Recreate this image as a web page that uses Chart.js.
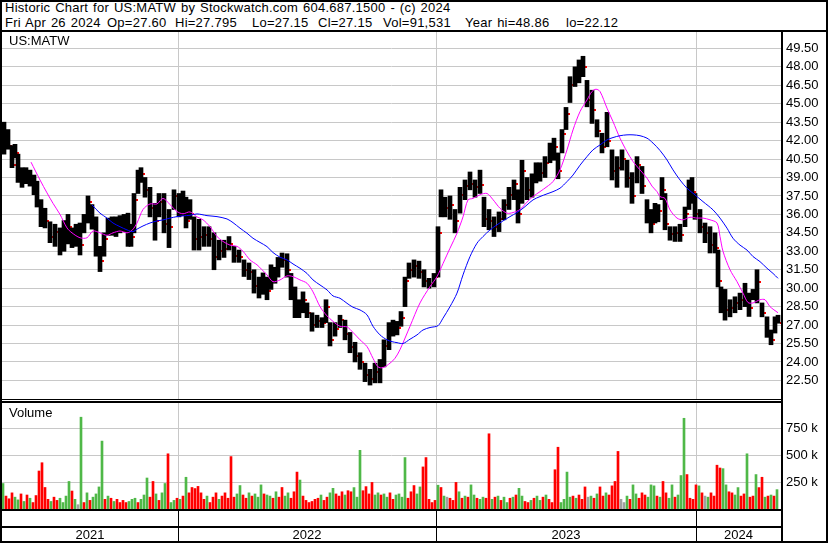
<!DOCTYPE html>
<html>
<head>
<meta charset="utf-8">
<script src="https://cdn.jsdelivr.net/npm/chart.js@4.4.1/dist/chart.umd.min.js"></script>
<style>
  body { margin: 0; background: #fff; }
  #wrap { position: relative; width: 830px; height: 543px; background: #fff; overflow: hidden;
          font-family: "Liberation Sans", Arial, sans-serif; font-size: 13px; color: #000; }
  #wrap canvas { position: absolute; }
  .ln { position: absolute; background: #000; }
  .txt { position: absolute; white-space: pre; line-height: 14px; }
  .hd { letter-spacing: 0.25px; word-spacing: 1px; }
</style>
</head>
<body>
<div id="wrap">
  <canvas id="price" width="825" height="367" style="left:2px; top:32px; width:825px; height:367px"></canvas>
  <canvas id="volume" width="825" height="138" style="left:2px; top:403px; width:825px; height:138px"></canvas>

  <div class="txt hd" style="left:5px; top:1px">Historic Chart for US:MATW by Stockwatch.com 604.687.1500 - (c) 2024</div>
  <div class="txt hd" style="left:5px; top:16px">Fri Apr 26 2024</div>
  <div class="txt hd" style="left:107px; top:16px">Op=27.60</div>
  <div class="txt hd" style="left:175px; top:16px">Hi=27.795</div>
  <div class="txt hd" style="left:252px; top:16px">Lo=27.15</div>
  <div class="txt hd" style="left:318px; top:16px">Cl=27.15</div>
  <div class="txt hd" style="left:383px; top:16px">Vol=91,531</div>
  <div class="txt hd" style="left:465px; top:16px">Year hi=48.86</div>
  <div class="txt hd" style="left:566px; top:16px">lo=22.12</div>
  <div class="txt" style="left:9px; top:34px">US:MATW</div>
  <div class="txt" style="left:9px; top:406px">Volume</div>

  <!-- cadre -->
  <div class="ln" style="left:0; top:0; width:828px; height:2px"></div>
  <div class="ln" style="left:0; top:541px; width:828px; height:2px"></div>
  <div class="ln" style="left:0; top:0; width:2px; height:543px"></div>
  <div class="ln" style="left:826px; top:0; width:2px; height:543px"></div>
  <div class="ln" style="left:0; top:30px; width:828px; height:2px"></div>
  <div class="ln" style="left:781px; top:32px; width:2px; height:511px"></div>
  <div class="ln" style="left:0; top:399px; width:781px; height:1px"></div>
  <div class="ln" style="left:0; top:401px; width:781px; height:2px"></div>
  <div class="ln" style="left:0; top:509px; width:781px; height:2px"></div>
  <div class="ln" style="left:0; top:526px; width:781px; height:2px"></div>
</div>

<script>
// ---- données (jour = position de la séance) ----
const priceTicks = [22.5, 24, 25.5, 27, 28.5, 30, 31.5, 33, 34.5, 36, 37.5, 39, 40.5, 42, 43.5, 45, 46.5, 48, 49.5];
const volTicks = [250, 500, 750];
const yearStartDay = [178, 436, 696];
const yearLabels = ["2021", "2022", "2023", "2024"];

const priceDay = [
  4, 8, 12, 15, 18, 22, 26, 30, 34, 37,
  41, 45, 50, 55, 60, 64, 68, 72, 76, 80,
  84, 88, 92, 96, 100, 104, 108, 112, 116, 120,
  124, 128, 131, 134, 138, 141, 145, 150, 155, 159,
  164, 169, 174, 179, 183, 186, 190, 194, 199, 204,
  209, 214, 219, 224, 229, 234, 239, 244, 249, 254,
  259, 263, 267, 271, 275, 278, 282, 287, 291, 295,
  299, 303, 307, 312, 317, 322, 326, 330, 335, 340,
  345, 350, 355, 360, 365, 370, 375, 380, 384, 389,
  393, 397, 401, 405, 409, 414, 419, 424, 429, 434,
  438, 441, 445, 450, 455, 460, 465, 470, 475, 480,
  484, 489, 494, 499, 504, 509, 514, 518, 522, 527,
  532, 536, 540, 545, 550, 554, 558, 562, 566, 570,
  575, 579, 583, 587, 592, 597, 602, 607, 612, 617,
  622, 627, 632, 637, 642, 647, 651, 655, 658, 662,
  665, 670, 675, 680, 685, 689, 692, 695, 700, 705,
  710, 715, 718, 721, 725, 730, 735, 740, 745, 749,
  753, 757, 762, 767, 771, 775, 778
];
const priceHi = [
  43.5, 42.9, 41.6, 41.7, 40.9, 39.8, 39.8, 39.6, 39.2, 38.7,
  37.2, 36.5, 35.4, 35.2, 34.9, 35.5, 36.0, 34.9, 35.2, 35.3,
  36.0, 37.5, 36.8, 35.8, 33.4, 34.5, 35.7, 35.8, 35.8, 35.9,
  36.0, 36.1, 35.2, 37.7, 39.6, 39.8, 39.0, 38.2, 36.9, 37.7,
  37.7, 36.4, 38.0, 37.7, 37.9, 37.4, 37.2, 35.8, 35.6, 35.0,
  35.0, 34.5, 33.9, 33.9, 34.2, 33.4, 33.1, 32.3, 32.05, 31.5,
  30.9, 31.24, 30.9, 31.9, 31.7, 32.5, 32.86, 32.8, 31.2, 30.1,
  29.06, 29.7, 28.8, 28.0, 27.8, 27.6, 29.06, 27.2, 27.2, 27.8,
  27.4, 26.4, 25.6, 24.75, 23.9, 23.4, 23.9, 24.2, 25.8, 27.2,
  27.4, 27.3, 28.1, 30.9, 32.05, 32.3, 32.2, 31.5, 30.8, 31.2,
  35.0, 38.0, 37.4, 37.5, 36.4, 38.2, 38.8, 39.45, 38.8, 39.6,
  37.4, 36.4, 35.8, 36.2, 37.2, 38.2, 38.8, 38.0, 40.4, 39.0,
  39.3, 40.2, 40.2, 40.7, 41.8, 42.2, 41.0, 42.9, 44.7, 47.2,
  48.0, 48.56, 48.86, 46.9, 46.1, 43.7, 42.6, 44.3, 41.25, 40.7,
  41.25, 40.4, 39.4, 40.7, 39.9, 37.2, 36.4, 36.9, 36.8, 39.0,
  37.7, 35.0, 35.0, 35.2, 36.6, 38.8, 39.0, 37.7, 36.4, 35.3,
  35.0, 34.5, 33.1, 30.1, 29.9, 29.06, 29.3, 29.6, 30.4, 29.6,
  29.9, 31.5, 28.8, 27.67, 26.6, 27.67, 27.8
];
const priceLo = [
  40.9, 41.3, 39.8, 40.6, 38.6, 38.2, 38.5, 38.3, 37.6, 36.6,
  35.0, 34.9, 33.7, 33.4, 32.7, 33.0, 33.6, 33.3, 33.4, 32.7,
  34.5, 35.3, 34.8, 32.6, 31.35, 32.6, 34.3, 34.3, 34.2, 34.5,
  34.6, 33.4, 33.4, 34.5, 37.7, 38.6, 37.4, 35.8, 33.9, 35.8,
  34.5, 33.3, 36.4, 35.8, 35.9, 34.9, 35.6, 33.1, 33.1, 33.4,
  33.4, 31.5, 32.3, 32.5, 33.1, 32.1, 32.1, 30.95, 30.7, 29.6,
  29.2, 29.5, 29.06, 29.9, 30.4, 30.9, 31.7, 30.9, 29.06, 27.6,
  27.6, 28.0, 27.6, 26.5, 26.8, 26.8, 27.2, 25.3, 26.1, 26.8,
  25.8, 24.75, 24.0, 23.4, 22.4, 22.12, 22.3, 22.3, 23.6, 25.0,
  26.1, 26.2, 26.9, 28.5, 30.8, 30.9, 30.8, 30.1, 30.0, 30.1,
  30.9, 35.8, 35.8, 35.6, 34.5, 36.1, 37.2, 38.0, 37.4, 37.7,
  35.0, 34.75, 34.2, 34.6, 35.56, 36.4, 37.2, 35.3, 36.9, 37.2,
  37.4, 38.56, 38.7, 39.0, 40.2, 40.4, 38.9, 41.0, 42.9, 45.1,
  46.4, 46.7, 47.2, 44.75, 43.4, 42.3, 41.0, 41.5, 38.8, 38.2,
  39.6, 38.2, 36.9, 38.56, 37.7, 35.3, 34.5, 35.3, 35.4, 37.2,
  34.75, 33.9, 33.8, 33.8, 35.0, 36.4, 36.9, 35.6, 34.5, 33.7,
  32.86, 32.86, 30.1, 28.0, 27.4, 27.67, 28.0, 28.25, 28.5, 27.7,
  29.06, 28.8, 27.67, 26.0, 25.4, 26.35, 27.15
];
const priceClose = [
  42.2, 41.6, 40.0, 41.0, 39.0, 38.9, 39.2, 38.8, 38.0, 37.0,
  35.6, 35.5, 34.2, 34.6, 33.8, 34.8, 35.0, 34.0, 34.4, 33.5,
  35.6, 37.0, 35.5, 33.2, 32.2, 34.0, 35.0, 35.2, 35.2, 35.0,
  35.3, 34.0, 34.2, 37.2, 39.2, 39.3, 38.0, 36.5, 35.5, 37.0,
  35.2, 35.0, 37.5, 36.8, 36.5, 35.5, 36.0, 34.0, 34.2, 34.3,
  34.0, 32.5, 33.0, 33.2, 33.6, 32.6, 32.5, 31.5, 31.3, 30.2,
  29.8, 30.8, 29.8, 31.2, 31.0, 32.0, 32.3, 31.5, 29.5, 28.2,
  28.5, 29.0, 28.0, 27.0, 27.3, 27.2, 28.5, 25.8, 26.7, 27.4,
  26.3, 25.2, 24.5, 24.0, 22.9, 22.6, 23.2, 23.9, 25.3, 26.8,
  26.6, 26.8, 27.6, 30.6, 31.5, 31.8, 31.3, 30.6, 30.3, 30.9,
  34.5, 37.0, 36.5, 36.8, 35.5, 37.6, 38.3, 38.5, 38.2, 38.4,
  35.6, 35.5, 35.0, 35.6, 36.8, 37.6, 38.5, 36.0, 39.5, 38.0,
  38.6, 39.5, 39.4, 40.2, 41.3, 41.5, 39.5, 42.5, 44.2, 46.5,
  47.2, 47.8, 48.0, 45.3, 44.5, 42.8, 41.5, 42.0, 39.5, 39.8,
  40.5, 39.0, 37.5, 40.0, 38.3, 35.8, 35.2, 36.0, 36.3, 38.0,
  35.2, 34.4, 34.5, 34.3, 36.0, 38.0, 37.8, 36.0, 35.0, 34.5,
  33.5, 33.3, 30.6, 28.7, 28.2, 28.4, 28.8, 29.0, 29.5, 28.4,
  29.4, 30.5, 28.0, 26.5, 25.8, 27.3, 27.15
];

// moyenne mobile courte (magenta)
const maShortDay = [
  31, 40, 47, 53, 60, 67, 72, 80, 87, 93, 100, 107, 113, 120, 127, 132, 137, 143, 150, 157,
  163, 170, 177, 183, 190, 197, 203, 210, 217, 223, 230, 237, 243, 250, 257, 262, 267, 273, 280, 287,
  293, 300, 307, 313, 320, 327, 333, 340, 347, 353, 360, 367, 373, 378, 383, 390, 395, 400, 410, 420,
  430, 437, 443, 450, 457, 463, 468, 473, 480, 487, 493, 500, 507, 513, 520, 527, 533, 540, 547, 553,
  560, 567, 573, 580, 587, 592, 596, 600, 607, 613, 620, 627, 633, 640, 647, 652, 657, 660, 665, 670,
  677, 683, 690, 697, 703, 710, 717, 720, 723, 730, 737, 743, 748, 753, 760, 765, 770, 778
];
const maShort = [
  40.25, 38.8, 37.75, 36.9, 36.0, 34.9, 34.5, 34.1, 34.1, 34.65, 34.5, 34.3, 34.5, 34.65, 34.5, 34.7, 35.3, 36.4, 36.85, 36.85,
  37.3, 36.8, 36.23, 36.05, 36.2, 35.8, 35.56, 35.0, 34.2, 33.8, 33.5, 33.4, 33.0, 32.3, 31.9, 31.5, 31.08, 30.53, 30.67, 31.0,
  30.94, 30.67, 30.4, 29.7, 28.5, 27.75, 27.3, 26.9, 26.85, 26.4, 25.8, 25.25, 24.3, 23.6, 23.54, 23.9, 24.3, 25.0, 26.9, 28.8,
  30.13, 30.94, 32.0, 33.25, 34.47, 35.8, 37.18, 37.3, 37.6, 37.7, 37.2, 36.5, 36.1, 36.15, 36.4, 37.0, 37.45, 37.85, 38.26, 38.67,
  39.62, 41.25, 42.87, 44.36, 45.31, 46.0, 46.18, 46.0, 44.64, 43.55, 42.2, 41.1, 40.3, 39.62, 38.95, 38.3, 37.85, 37.45, 37.3, 36.37,
  35.7, 35.56, 35.77, 35.7, 35.7, 35.56, 35.3, 34.2, 33.0, 31.5, 30.53, 29.6, 28.83, 28.8, 29.06, 29.06, 28.5, 28.0
];

// moyenne mobile longue (bleu)
const maLongDay = [
  92, 100, 107, 113, 120, 127, 133, 137, 143, 150, 157, 163, 170, 177, 183, 190, 197, 207, 217, 227,
  233, 240, 247, 253, 260, 267, 273, 280, 287, 293, 300, 307, 313, 320, 327, 333, 340, 347, 353, 360,
  367, 373, 380, 387, 392, 397, 403, 410, 417, 423, 430, 438, 443, 450, 457, 463, 470, 477, 483, 490,
  497, 503, 510, 517, 523, 527, 533, 540, 547, 553, 560, 567, 573, 580, 587, 593, 600, 607, 613, 620,
  627, 633, 640, 647, 653, 660, 667, 673, 680, 687, 693, 703, 713, 720, 727, 733, 740, 747, 753, 760,
  767, 773, 778
];
const maLong = [
  36.77, 36.1, 35.7, 35.3, 35.0, 34.74, 34.6, 34.8, 35.06, 35.3, 35.47, 35.55, 35.7, 35.82, 35.88, 35.93, 36.04, 35.9, 35.82, 35.63,
  35.33, 34.88, 34.47, 34.06, 33.72, 33.38, 32.9, 32.52, 32.3, 31.97, 31.62, 31.2, 30.67, 30.26, 29.86, 29.37, 29.18, 28.77, 28.45, 28.23,
  27.83, 26.9, 26.2, 25.8, 25.65, 25.57, 25.5, 25.85, 26.2, 26.6, 26.8, 26.95, 27.56, 28.5, 29.6, 31.08, 32.57, 33.66, 34.2, 34.74,
  35.15, 35.47, 35.82, 36.15, 36.5, 36.77, 37.18, 37.45, 37.67, 37.85, 38.13, 38.67, 39.2, 40.0, 40.7, 41.25, 41.65, 42.06, 42.25, 42.4,
  42.47, 42.47, 42.4, 42.2, 41.8, 41.2, 40.43, 39.62, 38.8, 38.13, 37.72, 37.04, 36.37, 35.7, 34.88, 34.06, 33.5, 33.1, 32.57, 32.16,
  31.62, 31.2, 30.8
];

// volume en milliers, une barre toutes les 3 séances
const volume = [
  237, 120, 95, 150, 110, 85, 140, 70, 130, 100, 60, 125, 353, 430, 200, 90, 70, 110, 80, 100,
  60, 120, 256, 167, 90, 40, 853, 60, 150, 80, 110, 140, 205, 631, 90, 120, 100, 70, 90, 60,
  80, 60, 70, 90, 100, 60, 90, 130, 288, 110, 256, 140, 80, 150, 237, 513, 60, 80, 100, 90,
  120, 295, 150, 200, 190, 210, 150, 90, 120, 60, 110, 150, 90, 120, 150, 100, 487, 110, 140, 218,
  130, 100, 150, 120, 140, 110, 224, 140, 130, 120, 100, 160, 110, 200, 120, 150, 100, 160, 343, 269,
  120, 80, 60, 70, 90, 100, 130, 80, 110, 150, 192, 140, 120, 160, 130, 170, 160, 199, 110, 545,
  170, 208, 140, 247, 130, 150, 130, 140, 110, 150, 90, 130, 140, 110, 478, 100, 160, 218, 140, 205,
  391, 478, 90, 60, 80, 221, 200, 120, 110, 100, 80, 247, 160, 100, 120, 110, 224, 130, 100, 90,
  110, 100, 699, 90, 110, 120, 80, 110, 60, 100, 110, 130, 192, 120, 70, 60, 80, 100, 120, 80,
  110, 130, 90, 60, 365, 574, 60, 90, 343, 110, 120, 100, 130, 90, 205, 110, 120, 100, 140, 205,
  120, 150, 130, 215, 256, 535, 90, 60, 120, 90, 224, 140, 100, 150, 130, 110, 224, 215, 120, 110,
  256, 150, 100, 224, 110, 130, 311, 843, 320, 100, 90, 224, 215, 150, 120, 110, 150, 120, 407, 381,
  375, 224, 160, 150, 130, 199, 120, 140, 513, 110, 120, 320, 199, 295, 110, 120, 130, 120, 180
];
// g = hausse, r = baisse, n = inchangé
const volumeDir =
  "grrrggrgrgrrrrrrgrrg" + "gggrgngrgrggggrgrgrr" + "rrgggrgggrrgrggrggrg" +
  "rgrrrrrrgrrrgrrrrrgg" + "rrgrgggrggrgrrggrrrg" + "rrrrrrgrrggrrrgrrggg" +
  "rrrrggrggrrggggrrrgg" + "rrrrrgrgnrrrgrgrggrg" + "grrgrgrggrgrggrrgrgg" +
  "rgrrrrggggrgrrrngrgr" + "rgrrrrnngrggrrrgggrg" + "rrggrgggrrrrgrngrrrr" +
  "ggrrggrrgrrgrrgrgrg";

// ---- style ----
const GRID = "rgb(200,200,200)";
const VOL_COLORS = { g: "#4fb848", r: "#ff0000", n: "#a0a0a0" };
const dayMin = 2, dayMax = 781;
const volDay = volume.map((v, i) => 3 + 3 * i);

Chart.defaults.font.family = '"Liberation Sans", Arial, sans-serif';
Chart.defaults.font.size = 13;
Chart.defaults.color = "#000";

// lignes verticales grises aux changements d'année
const yearLines = {
  id: "yearLines",
  beforeDatasetsDraw(chart) {
    const { ctx, chartArea: a, scales: { x } } = chart;
    ctx.save();
    ctx.strokeStyle = GRID;
    ctx.lineWidth = 1;
    yearStartDay.forEach((d) => {
      const px = Math.round(x.getPixelForValue(d)) + 0.5;
      ctx.beginPath();
      ctx.moveTo(px, a.top);
      ctx.lineTo(px, a.bottom);
      ctx.stroke();
    });
    ctx.restore();
  },
};

// trait rouge de clôture à droite de la barre, dessiné avant les barres
// (il ne reste visible que là où la barre suivante ne le recouvre pas)
const closeTicks = {
  id: "closeTicks",
  beforeDatasetDraw(chart, args) {
    if (args.index !== 2) return;
    const { ctx, scales: { y } } = chart;
    ctx.save();
    ctx.fillStyle = "#ff0000";
    args.meta.data.forEach((bar, i) => {
      const py = Math.round(y.getPixelForValue(priceClose[i]));
      ctx.fillRect(Math.round(bar.x + bar.width / 2), py - 1, 2, 2);
    });
    ctx.restore();
  },
};

// axe des dates sous le volume
const dateAxis = {
  id: "dateAxis",
  afterDraw(chart) {
    const { ctx, chartArea: a, scales: { x } } = chart;
    const edges = [a.left, ...yearStartDay.map((d) => Math.round(x.getPixelForValue(d))), a.right];
    ctx.save();
    ctx.fillStyle = "#000";
    yearStartDay.forEach((d) => {
      ctx.fillRect(Math.round(x.getPixelForValue(d)), a.bottom, 1, chart.height - a.bottom);
    });
    ctx.font = '13px "Liberation Sans", Arial, sans-serif';
    ctx.textAlign = "center";
    ctx.textBaseline = "middle";
    yearLabels.forEach((lab, i) => {
      ctx.fillText(lab, (edges[i] + edges[i + 1]) / 2, a.bottom + 26);
    });
    ctx.restore();
  },
};

// axe de droite : largeur fixe, sans marge pour les étiquettes extrêmes
function fitRightAxis(s) {
  s.width = 46;
  s.paddingTop = 0;
  s.paddingBottom = 0;
}

const commonOptions = {
  responsive: false,
  animation: false,
  events: [],
  plugins: { legend: { display: false }, tooltip: { enabled: false } },
};

// graphique des cours
new Chart(document.getElementById("price"), {
  type: "bar",
  data: {
    datasets: [
      {
        type: "line",
        data: maShortDay.map((d, i) => ({ x: d, y: maShort[i] })),
        borderColor: "#ff00ff",
        borderWidth: 1,
        pointRadius: 0,
        tension: 0.3,
        order: 1,
      },
      {
        type: "line",
        data: maLongDay.map((d, i) => ({ x: d, y: maLong[i] })),
        borderColor: "#0000ff",
        borderWidth: 1,
        pointRadius: 0,
        tension: 0.3,
        order: 0,
      },
      {
        data: priceDay.map((d, i) => ({ x: d, y: [priceLo[i], priceHi[i]] })),
        backgroundColor: "#000",
        borderWidth: 0,
        barThickness: 4,
        order: 2,
      },
    ],
  },
  options: {
    ...commonOptions,
    scales: {
      x: { type: "linear", offset: false, min: dayMin, max: dayMax, display: false },
      y: {
        position: "right",
        min: 20.987,
        max: 50.834,
        afterBuildTicks: (s) => { s.ticks = priceTicks.map((v) => ({ value: v })); },
        afterFit: fitRightAxis,
        grid: { color: GRID, drawTicks: false },
        border: { display: false },
        ticks: { padding: 5, callback: (v) => v.toFixed(2) },
      },
    },
  },
  plugins: [yearLines, closeTicks],
});

// graphique du volume
new Chart(document.getElementById("volume"), {
  type: "bar",
  data: {
    datasets: [
      {
        data: volume.map((v, i) => ({ x: volDay[i], y: v })),
        backgroundColor: volumeDir.split("").map((c) => VOL_COLORS[c]),
        borderWidth: 0,
        barThickness: 2,
      },
    ],
  },
  options: {
    ...commonOptions,
    layout: { padding: { bottom: 32 } },
    scales: {
      x: { type: "linear", offset: false, min: dayMin, max: dayMax, display: false },
      y: {
        position: "right",
        min: 0,
        max: 985,
        afterBuildTicks: (s) => { s.ticks = volTicks.map((v) => ({ value: v })); },
        afterFit: fitRightAxis,
        grid: { color: GRID, drawTicks: false },
        border: { display: false },
        ticks: { padding: 5, callback: (v) => v + " k" },
      },
    },
  },
  plugins: [yearLines, dateAxis],
});
</script>
</body>
</html>
